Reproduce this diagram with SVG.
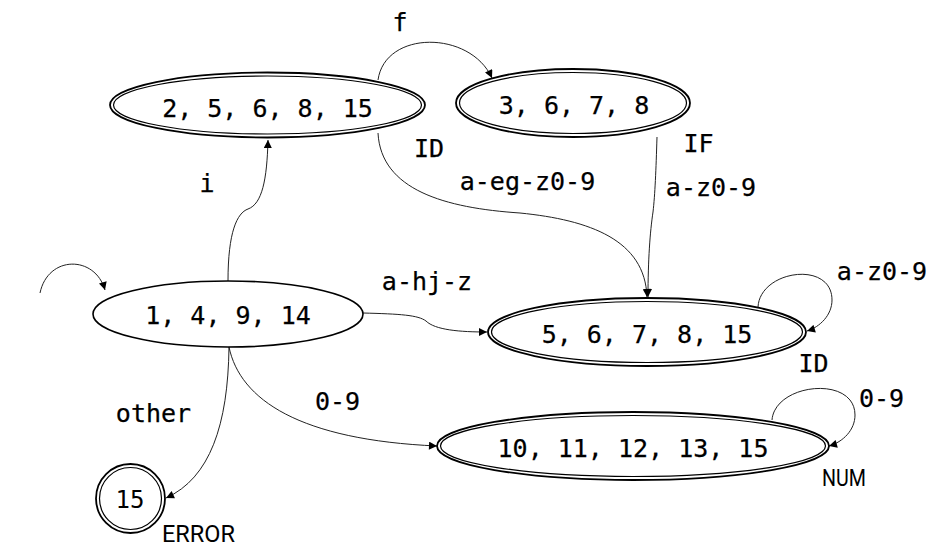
<svg xmlns="http://www.w3.org/2000/svg" width="942" height="558" viewBox="0 0 942 558">
<defs>
<marker id="arr" viewBox="0 0 10 10" refX="10" refY="5" markerWidth="10" markerHeight="8" markerUnits="userSpaceOnUse" orient="auto"><path d="M0,0 L10,5 L0,10 z" fill="#000"/></marker>
<style>
.o{fill:none;stroke:#000;stroke-width:1.8}
.i{fill:none;stroke:#000;stroke-width:1.2}
.s{fill:#fff;stroke:#000;stroke-width:1.6}
.t{font-family:"DejaVu Sans Mono","Liberation Mono",monospace;font-size:25px;fill:#000;stroke:#000;stroke-width:0.25;text-anchor:middle}
.l{font-family:"DejaVu Sans Mono","Liberation Mono",monospace;font-size:24px;fill:#000;text-anchor:middle}
.n{font-family:"Roboto","Liberation Sans",sans-serif;fill:#000}
.e{fill:none;stroke:#222;stroke-width:1;marker-end:url(#arr)}
</style>
</defs>
<rect width="942" height="558" fill="#fff"/>
<g id="connectors">
<path class="e" d="M40,293 C48,255 95,255 105,290"/>
<path class="e" d="M228,281 C228,232 237,213 248,209 C262,204 267,180 268,140"/>
<path class="e" d="M378,80 C385,30 470,30 492,78"/>
<path class="e" d="M378,133 C381,190 445,208 520,213 C590,220 645,240 647,297"/>
<path class="e" d="M657,137 C656,170 655,195 653,212 C650,232 648,260 648,297"/>
<path class="e" d="M363,313 C400,314 418,315 426,321 C435,330 460,332 487,332"/>
<path class="e" d="M758,307 C760,270 832,260 832,300 C832,315 820,327 807,331"/>
<path class="e" d="M772,420 C775,383 855,375 855,415 C855,430 843,442 829,446"/>
<path class="e" d="M229,347 C240,400 300,440 437,446"/>
<path class="e" d="M229,347 C228,425 210,478 166,498"/>
</g>
<g id="n_2_5_6_8_15">
<ellipse class="o" cx="267.5" cy="105" rx="157.5" ry="32.5"/>
<ellipse class="i" cx="267.5" cy="105" rx="154" ry="29"/>
<text class="t" x="267.5" y="117">2, 5, 6, 8, 15</text>
</g>
<g id="n_3_6_7_8">
<ellipse class="o" cx="573" cy="103" rx="117" ry="34"/>
<ellipse class="i" cx="573" cy="103" rx="113.5" ry="30.5"/>
<text class="t" x="574" y="113.5">3, 6, 7, 8</text>
</g>
<g id="n_1_4_9_14">
<ellipse class="s" cx="228" cy="314" rx="135" ry="33"/>
<text class="t" x="228" y="324">1, 4, 9, 14</text>
</g>
<g id="n_5_6_7_8_15">
<ellipse class="o" cx="647" cy="332" rx="159" ry="34"/>
<ellipse class="i" cx="647" cy="332" rx="155.5" ry="30.5"/>
<text class="t" x="647" y="343">5, 6, 7, 8, 15</text>
</g>
<g id="n_10_11_12_13_15">
<ellipse class="o" cx="633" cy="446" rx="196" ry="34"/>
<ellipse class="i" cx="633" cy="446" rx="192.5" ry="30.5"/>
<text class="t" x="633" y="457">10, 11, 12, 13, 15</text>
</g>
<g id="n_15">
<circle class="o" cx="130.5" cy="498.5" r="34.5"/>
<circle class="i" cx="130.5" cy="498.5" r="31"/>
<text class="l" x="130" y="508">15</text>
</g>
<g id="labels">
<text class="t" x="400" y="31">f</text>
<text class="t" x="207" y="192">i</text>
<text class="t" x="429" y="157">ID</text>
<text class="t" x="698.5" y="152">IF</text>
<text class="t" x="527.5" y="190">a-eg-z0-9</text>
<text class="t" x="711" y="196">a-z0-9</text>
<text class="t" x="427" y="290">a-hj-z</text>
<text class="t" x="882" y="280">a-z0-9</text>
<text class="t" x="813.5" y="372">ID</text>
<text class="t" x="881.5" y="407">0-9</text>
<text class="t" x="337.5" y="410">0-9</text>
<text class="t" x="153.5" y="422">other</text>
<text class="n" x="822" y="486" font-size="23" textLength="44" lengthAdjust="spacingAndGlyphs">NUM</text>
<text class="n" x="162" y="542" font-size="24" textLength="73" lengthAdjust="spacingAndGlyphs">ERROR</text>
</g>
</svg>
